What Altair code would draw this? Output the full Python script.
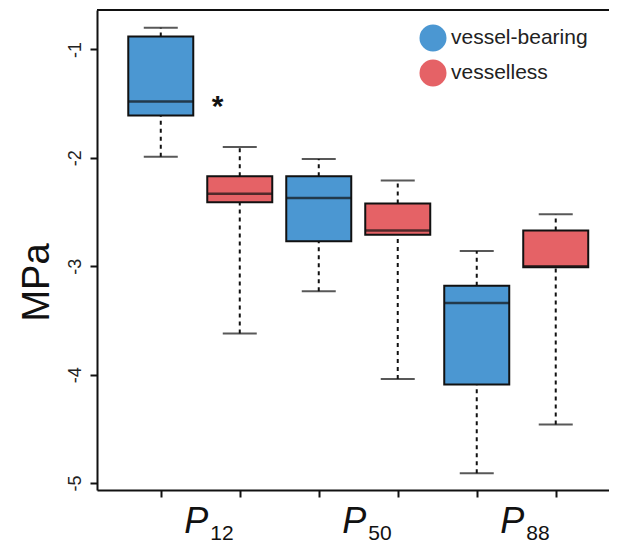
import altair as alt
import pandas as pd

# categories
groups = ["P12", "P50", "P88"]
subscripts = ["12", "50", "88"]
conditions = ["vessel-bearing", "vesselless"]
colors = ["#4B97D2", "#E56266"]

# five-number summaries (MPa), one value per group
bearing_min = [-1.99, -3.23, -4.91]
bearing_q1 = [-1.61, -2.77, -4.09]
bearing_med = [-1.48, -2.37, -3.34]
bearing_q3 = [-0.88, -2.17, -3.18]
bearing_max = [-0.80, -2.01, -2.86]

less_min = [-3.62, -4.04, -4.46]
less_q1 = [-2.41, -2.71, -3.01]
less_med = [-2.33, -2.67, -3.00]
less_q3 = [-2.17, -2.42, -2.67]
less_max = [-1.90, -2.21, -2.52]

# significance annotation
star_group = ["P12"]
star_y = [-1.615]

summaries = {
    "vessel-bearing": (bearing_min, bearing_q1, bearing_med, bearing_q3, bearing_max),
    "vesselless": (less_min, less_q1, less_med, less_q3, less_max),
}

rows = []
for gi, g in enumerate(groups):
    for ci, c in enumerate(conditions):
        mn, q1, md, q3, mx = summaries[c]
        rows.append({
            "group": g, "cond": c, "pos": gi * 2 + ci + 1,
            "min": mn[gi], "q1": q1[gi], "med": md[gi], "q3": q3[gi], "max": mx[gi],
        })
df = pd.DataFrame(rows)

lab = pd.DataFrame({"center": [gi * 2 + 1.5 for gi in range(len(groups))],
                    "sub": subscripts})
star = pd.DataFrame({"x": [groups.index(g) * 2 + 1.72 for g in star_group],
                     "y": star_y})

W, H = 512, 480
FONT = "Liberation Sans"

xscale = alt.Scale(domain=[0.256, 6.611], nice=False, zero=False)
yscale = alt.Scale(domain=[-5.064, -0.636], nice=False, zero=False)
xaxis = alt.Axis(values=[1, 2, 3, 4, 5, 6], labels=False, title=None, grid=False,
                 tickSize=7, tickWidth=2, tickColor="#111", domainWidth=2,
                 domainColor="#111")
yaxis = alt.Axis(values=[-1, -2, -3, -4, -5], labelExpr="toString(datum.value)",
                 title="MPa", grid=False, tickSize=7, tickWidth=2, tickColor="#111",
                 domainWidth=2, domainColor="#111", labelAngle=270, labelFontSize=18,
                 labelFont=FONT, labelColor="#222", labelPadding=6,
                 titleFont=FONT, titleFontSize=38, titleFontWeight="normal",
                 titleColor="#111", titlePadding=10, titleY=272)

base = alt.Chart(df)
X = alt.X("pos:Q", scale=xscale, axis=xaxis)

whisk_lo = base.mark_rule(color="#111", strokeWidth=2, strokeDash=[4, 4]).encode(
    x=X, y=alt.Y("min:Q", scale=yscale, axis=yaxis), y2="q1:Q")
whisk_hi = base.mark_rule(color="#111", strokeWidth=2, strokeDash=[4, 4]).encode(
    x=X, y=alt.Y("q3:Q", scale=yscale, axis=yaxis), y2="max:Q")
cap_lo = base.mark_tick(orient="horizontal", size=34, thickness=2, color="#111").encode(
    x=X, y=alt.Y("min:Q", scale=yscale, axis=yaxis))
cap_hi = base.mark_tick(orient="horizontal", size=34, thickness=2, color="#111").encode(
    x=X, y=alt.Y("max:Q", scale=yscale, axis=yaxis))
box = base.mark_bar(size=65, stroke="#111", strokeWidth=2, opacity=1).encode(
    x=X, y=alt.Y("q1:Q", scale=yscale, axis=yaxis), y2="q3:Q",
    color=alt.Color("cond:N", scale=alt.Scale(domain=conditions, range=colors),
                    legend=alt.Legend(title=None, orient="none", legendX=322, legendY=14,
                                      symbolType="circle", symbolSize=730,
                                      symbolStrokeWidth=0, symbolOpacity=1,
                                      labelFontSize=21, labelFont=FONT,
                                      labelColor="#222", rowPadding=7, labelOffset=4,
                                      padding=0)))
median = base.mark_tick(orient="horizontal", size=65, thickness=2.5, color="#111").encode(
    x=X, y=alt.Y("med:Q", scale=yscale, axis=yaxis))

star_t = alt.Chart(star).mark_text(text="*", fontSize=30, fontWeight="bold", font=FONT,
                                   color="#111", baseline="alphabetic").encode(
    x=alt.X("x:Q", scale=xscale, axis=xaxis), y=alt.Y("y:Q", scale=yscale, axis=yaxis))

p_t = alt.Chart(lab).mark_text(text="P", fontSize=36, fontStyle="italic", font=FONT,
                               color="#111", align="right", baseline="alphabetic",
                               dx=8).encode(
    x=alt.X("center:Q", scale=xscale, axis=xaxis), y=alt.value(H + 43))
sub_t = alt.Chart(lab).mark_text(fontSize=21, font=FONT, color="#111", align="left",
                                 baseline="alphabetic", dx=10).encode(
    x=alt.X("center:Q", scale=xscale, axis=xaxis), y=alt.value(H + 50), text="sub:N")

top_border = alt.Chart(lab).mark_rule(color="#111", strokeWidth=2).encode(
    x=alt.value(0), x2=alt.value(W), y=alt.value(0))

chart = alt.layer(whisk_lo, whisk_hi, cap_lo, cap_hi, box, median, star_t, p_t, sub_t,
                  top_border).properties(
    width=W, height=H,
    autosize=alt.AutoSizeParams(type="none"),
    padding={"left": 89, "top": 2, "right": 0, "bottom": 58},
).configure_view(stroke=None)

chart.save("out.html", embed_options={"renderer": "svg", "actions": False})
